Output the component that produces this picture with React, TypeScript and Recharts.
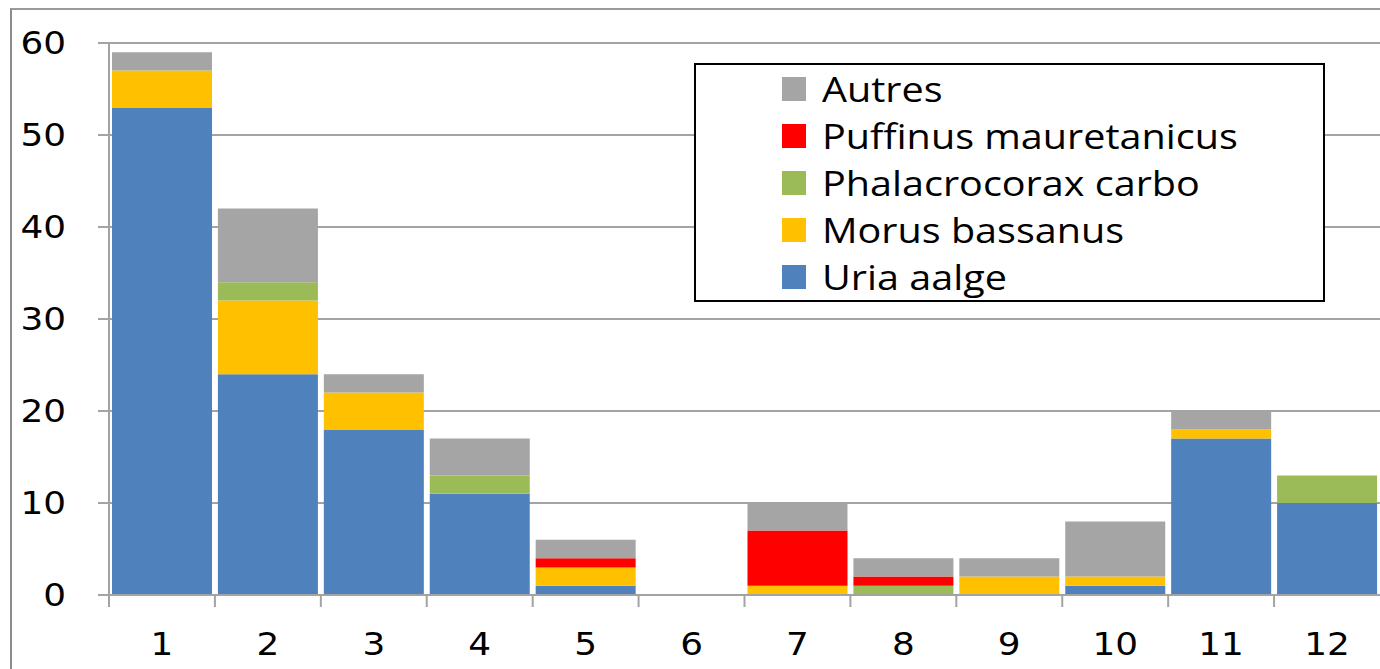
import React from 'react';
import { BarChart, Bar, XAxis, YAxis, CartesianGrid, Legend } from 'recharts';

const categories = ['1', '2', '3', '4', '5', '6', '7', '8', '9', '10', '11', '12'];
const uriaAalge = [53, 24, 18, 11, 1, 0, 0, 0, 0, 1, 17, 10];
const morusBassanus = [4, 8, 4, 0, 2, 0, 1, 0, 2, 1, 1, 0];
const phalacrocoraxCarbo = [0, 2, 0, 2, 0, 0, 0, 1, 0, 0, 0, 3];
const puffinusMauretanicus = [0, 0, 0, 0, 1, 0, 6, 1, 0, 0, 0, 0];
const autres = [2, 8, 2, 4, 2, 0, 3, 2, 2, 6, 2, 0];
const yTicks = [0, 10, 20, 30, 40, 50, 60];

const series = [
  { key: 'uria', name: 'Uria aalge', values: uriaAalge, color: '#4F81BD' },
  { key: 'morus', name: 'Morus bassanus', values: morusBassanus, color: '#FFC000' },
  { key: 'phal', name: 'Phalacrocorax carbo', values: phalacrocoraxCarbo, color: '#9BBB59' },
  { key: 'puff', name: 'Puffinus mauretanicus', values: puffinusMauretanicus, color: '#FF0000' },
  { key: 'autres', name: 'Autres', values: autres, color: '#A5A5A5' },
];

const data = categories.map((c, i) => {
  const row: Record<string, any> = { cat: c };
  series.forEach((s) => { row[s.key] = s.values[i]; });
  return row;
});

const W = 1380;
const H = 669;
const AXIS_W = 109;
const PLOT_W = W - AXIS_W;
const HALF = PLOT_W / categories.length / 2;
const GRID = '#a3a3a3';
const TICK_FONT = 'DejaVu Sans, Verdana, sans-serif';
const STRETCH = 1.12;

const XTick = (props: any) => {
  const { x, y, payload } = props;
  const ty = y + 60;
  return (
    <g>
      <line x1={x - HALF} x2={x - HALF} y1={y} y2={y + 12} stroke={GRID} strokeWidth={2} />
      <text
        x={x}
        y={ty}
        textAnchor="middle"
        fontSize={32}
        fontFamily={TICK_FONT}
        fill="#000"
        transform={`translate(${x} ${ty}) scale(${STRETCH} 1) translate(${-x} ${-ty})`}
      >
        {payload.value}
      </text>
    </g>
  );
};

const YTick = (props: any) => {
  const { x, y, payload } = props;
  const ty = y + 11;
  return (
    <text
      x={x}
      y={ty}
      textAnchor="end"
      fontSize={32}
      fontFamily={TICK_FONT}
      fill="#000"
      transform={`translate(${x} ${ty}) scale(${STRETCH} 1) translate(${-x} ${-ty})`}
    >
      {payload.value}
    </text>
  );
};

const LegendBox = () => {
  const items = [...series].reverse();
  return (
    <div
      style={{
        width: 627,
        height: 235,
        border: '2px solid #000',
        background: '#fff',
        boxSizing: 'content-box',
      }}
    >
      {items.map((s) => (
        <div key={s.key} style={{ display: 'flex', alignItems: 'center', height: 47, marginLeft: 86 }}>
          <div style={{ width: 24, height: 24, background: s.color, marginRight: 16 }} />
          <span
            style={{
              fontFamily: '"Open Sans", sans-serif',
              fontSize: 35,
              color: '#000',
              lineHeight: '47px',
              whiteSpace: 'nowrap',
              display: 'inline-block',
              transform: 'scaleX(1.13)',
              transformOrigin: 'left center',
            }}
          >
            {s.name}
          </span>
        </div>
      ))}
    </div>
  );
};

export default function App() {
  return (
    <div style={{ position: 'absolute', left: 0, top: 0, width: W, height: H, overflow: 'hidden', background: '#fff' }}>
      <div style={{ position: 'absolute', left: 10, top: 8, right: -10, bottom: -10, borderLeft: '2px solid #8c8c8c', borderTop: '2px solid #9a9a9a' }} />
      <BarChart
        width={W}
        height={H}
        data={data}
        margin={{ top: 43, right: 0, bottom: 14, left: 0 }}
        barCategoryGap={3}
        style={{ position: 'absolute', left: 0, top: 0 }}
      >
        <CartesianGrid horizontal vertical={false} stroke={GRID} strokeWidth={2} />
        <XAxis
          dataKey="cat"
          height={60}
          tickLine={false}
          tickSize={0}
          tickMargin={0}
          axisLine={{ stroke: GRID, strokeWidth: 2 }}
          tick={<XTick />}
          interval={0}
        />
        <YAxis
          width={AXIS_W}
          domain={[0, 60]}
          ticks={yTicks}
          interval={0}
          tickSize={11}
          tickMargin={32}
          tickLine={{ stroke: GRID, strokeWidth: 2 }}
          axisLine={{ stroke: GRID, strokeWidth: 2 }}
          tick={<YTick />}
        />
        {series.map((s) => (
          <Bar key={s.key} dataKey={s.key} name={s.name} stackId="a" fill={s.color} isAnimationActive={false} />
        ))}
        <Legend
          layout="horizontal"
          verticalAlign="middle"
          align="center"
          content={<LegendBox />}
          wrapperStyle={{ position: 'absolute', left: 694, top: 63, width: 'auto', height: 'auto' }}
        />
      </BarChart>
    </div>
  );
}
